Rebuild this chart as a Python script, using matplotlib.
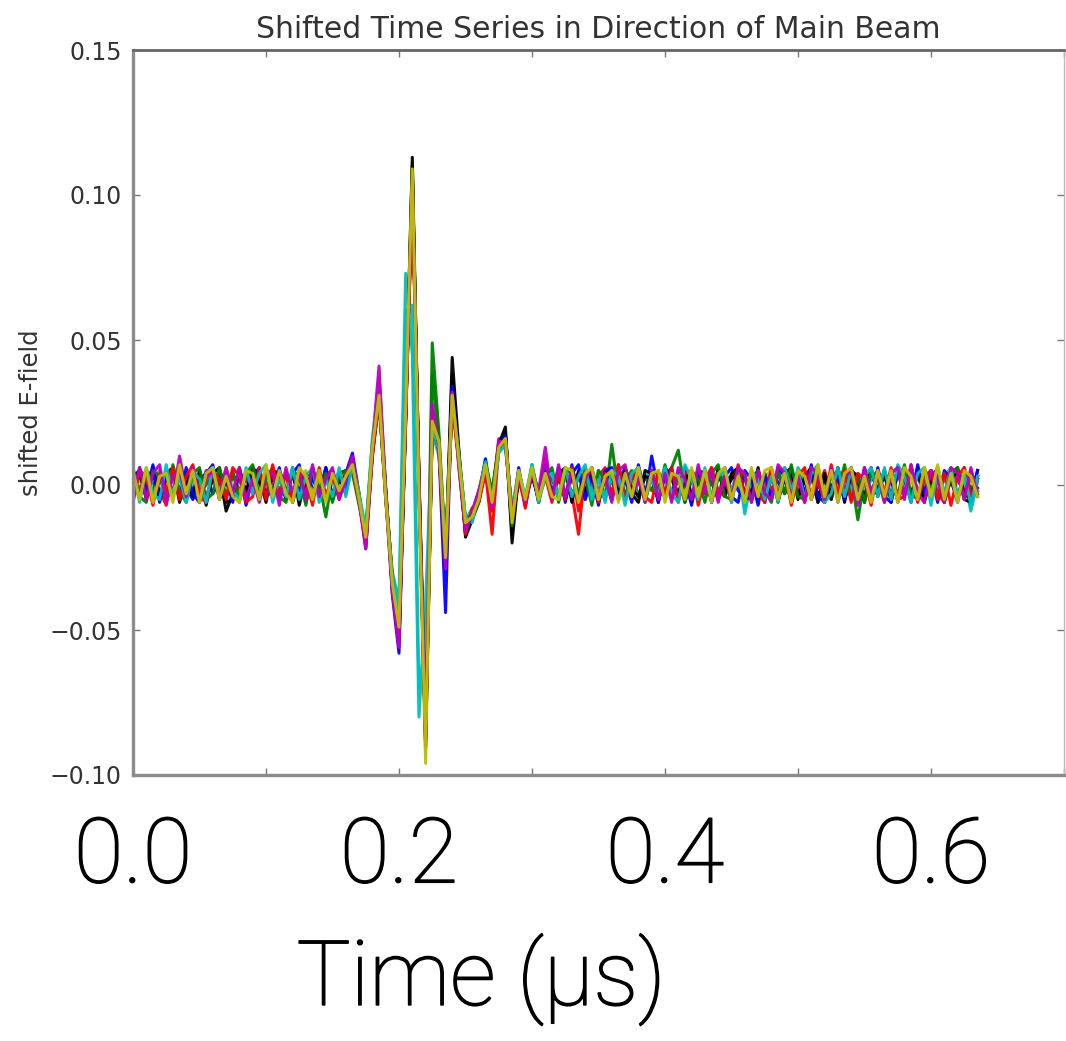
"""
Shifted time series in the direction of the main beam.
Fourteen traces (classic b,g,r,c,m,y,k colours), sampled every 5 ns.
Values read off the reference picture, in units of 1e-3.
Output: out.png
"""

import numpy as np
import matplotlib
matplotlib.use("Agg")
import matplotlib.pyplot as plt
import matplotlib.patheffects as pe

OUT_PNG = "out.png"
DT = 0.005  # µs per sample

# ── Traces (x 1e-3) ──────────────────────────────────────────────────────────
TRACE_B = [2, -3, 4, 1, -4, 3, -2, 5, -1, -5, 2, 4, -3, 1, 5, -2,
           -4, 3, 0, -3, 4, 2, -5, 1, 3, -2, 4, -1, -3, 5, 2, -1,
           4, 11, -3, -22, 10, 30, -4, -38, -58, 22, 106, 2, -85, 20, 12, -44,
           36, 6, -16, -9, -2, 8, -6, 12, 15, -10, 4, -6, 5, -3, 6, -2,
           3, -5, 7, -4, 2, 5, -6, 3, 1, -4, 6, -3, 2, -5, 10, -2,
           4, -3, 5, -6, 2, 4, -3, 1, -5, 3, 6, -2, -4, 3, 2, -5,
           4, 1, -3, 5, -4, 2, 3, -6, 4, -1, 5, -3, 2, -4, 6, -2,
           -3, 4, 1, -5, 3, 5, -2, -4, 2, 6, -3, 1, -4, 3, 2, -1]
TRACE_G = [-3, 4, 1, -2, 5, -1, 3, -4, 2, 4, -3, 0, 5, -2, -4, 3,
           2, -5, 4, 1, -3, 5, -2, 3, -6, 2, 4, -3, 1, -11, 3, -1,
           2, 8, -5, -18, 13, 34, -1, -33, -50, 26, 110, -2, -82, 49, 18, -22,
           30, 10, -13, -11, -4, 6, -3, 15, 18, -13, 2, -4, 3, -5, 4, 2,
           -4, 5, 2, -3, 6, -2, 4, -5, 14, -3, 2, 5, -4, 3, -2, 4,
           -3, 6, 12, -2, 3, -5, 4, 1, -4, 5, -2, 3, -4, 2, 5, -3,
           2, -4, 5, 1, -3, 4, -5, 3, 2, -4, 6, -2, 3, -12, 2, 4,
           -2, 5, -4, 3, 1, -5, 4, -2, 5, -3, 2, 4, -5, 3, -1, 2]
TRACE_R = [1, -4, 3, 5, -2, -7, 4, 2, -3, 5, -1, -4, 3, 1, -5, 4,
           -2, 3, 5, -4, 1, -3, 4, 2, -5, 3, -2, 5, -3, 1, 4, -2,
           3, 7, -3, -20, 11, 28, -3, -32, -47, 24, 100, 1, -84, 22, 13, -25,
           27, 8, -14, -10, -5, 5, -17, 13, 16, -11, 5, -7, 4, -2, 5, -4,
           2, 4, -3, -17, 5, -2, 3, 6, -4, 1, -5, 4, 2, -3, 5, -1,
           -4, 3, 2, -5, 4, 1, -3, 6, -2, -4, 3, 5, -3, 1, -5, 4,
           -2, 5, -3, 2, 4, -6, 3, -1, 5, -4, 2, -3, 6, -2, -5, 3,
           4, -2, 5, -6, 2, 3, -4, 1, 5, -3, -6, 2, 4, -2, -5, 3]
TRACE_C = [-2, 3, -4, 2, 5, -1, 3, -3, 4, 1, -5, 3, 2, -3, 4, -1,
           3, -4, 6, -2, 4, 1, -3, 5, -2, 3, -4, 2, 5, -3, 1, 4,
           -2, 6, -6, -16, 15, 30, -5, -30, -40, 73, 45, -80, -40, 18, 10, -20,
           28, 12, -12, -8, -5, 9, -4, 12, 13, -9, 3, -5, 6, -3, 2, 5,
           -3, 2, 4, -5, 3, -2, 5, -4, 2, 6, -3, 1, -4, 3, 5, -2,
           2, -4, 3, 5, -3, 1, 4, -5, 2, 3, -2, 6, -10, 2, 4, -3,
           5, -2, 3, -4, 6, 2, -3, 4, -1, -5, 3, 5, -2, 4, -4, 2,
           5, -3, 4, 6, -2, 3, -5, 5, 2, -4, 3, 6, -3, 2, -9, 1]
TRACE_M = [3, -2, 5, -3, 1, 4, -4, 10, -2, 3, -4, 5, 2, -3, 1, -5,
           4, 2, -3, 5, -4, 1, 3, -2, 4, -5, 2, 3, -4, 1, 5, -3,
           1, 9, -4, -21, 14, 41, -2, -36, -55, 27, 104, 0, -86, 26, 15, -28,
           31, 9, -15, -9, -3, 7, -6, 16, 14, -12, 1, -5, 5, -2, 13, -4,
           5, -3, 2, 4, -5, 3, -2, 5, -4, 2, 6, -3, 1, -4, 3, -2,
           5, -4, 2, 3, -5, 6, -2, 4, -3, 1, -4, 5, 2, -5, 3, 1,
           -4, 3, 6, -2, 1, -5, 4, 2, -3, 5, -4, 1, 3, -6, 4, -2,
           3, -5, 2, 4, -3, 6, -2, -4, 3, 1, -5, 4, 2, -3, 5, -2]
TRACE_Y = [-4, 2, 3, -5, 4, 1, -3, 5, -2, 3, -4, 2, 4, -3, 6, -1,
           -3, 4, 1, -4, 5, -2, 3, 1, -4, 2, 5, -3, 2, -4, 3, 0,
           2, 8, -4, -19, 12, 33, -3, -35, -50, 25, 111, -3, -96, 24, 14, -27,
           33, 7, -15, -10, -3, 8, -5, 14, 17, -12, 3, -6, 4, -3, 5, -2,
           -3, 4, 3, -5, 2, 5, -3, 1, 4, -4, 3, -2, 5, -3, 2, 4,
           -5, 3, 1, -3, 5, -2, 4, -4, 2, 5, -3, 1, -4, 4, -2, 3,
           5, -3, 2, -5, 4, 1, -3, 6, -2, 3, -4, 2, 5, -3, 1, -4,
           4, -2, 3, -4, 5, 1, -3, 4, -2, 6, -3, 2, -4, 3, 1, -2]
TRACE_K = [1, 3, -2, 4, -3, 2, 5, -4, 1, -2, 3, -5, 2, 4, -9, -3,
           4, -2, 5, 1, -4, 3, 2, -3, 4, -5, 1, 3, -2, 4, -3, 2,
           3, 6, -4, -17, 11, 32, -3, -34, -53, 24, 113, 2, -88, 21, 13, -27,
           44, 12, -18, -12, -6, 6, -4, 14, 20, -20, 4, -5, 3, -4, 6, -3,
           2, 5, -4, 3, -2, 4, -5, 2, 3, -3, 5, -1, -4, 3, 2, -5,
           4, 2, -3, 5, -4, 1, 3, -5, 4, -2, 2, 5, -3, -2, 4, -4,
           3, -5, 2, 4, -3, 1, 5, -4, 2, -3, 4, -5, 3, 1, -4, 5,
           -2, 3, -4, 5, 2, -3, 4, -5, 1, 3, -4, 2, 5, -3, -5, 3]

TRACE_B2 = [-5, 6, -2, 7, -6, 3, 5, -4, 6, -3, -6, 4, 7, -5, 2, -6,
            5, -7, 3, 6, -4, -2, 6, -5, 4, 7, -6, 3, -4, 6, -5, 2,
            -3, 9, -6, -20, 12, 31, -2, -36, -54, 23, 107, -1, -87, 23, 14, -30,
            34, 9, -14, -12, -4, 9, -7, 13, 17, -11, 6, -7, 5, -6, 7, -4,
            6, -6, 4, 7, -5, 3, -7, 5, 6, -4, 2, -6, 7, -3, 5, -6,
            3, 6, -5, 2, -7, 5, 4, -6, 3, 6, -4, -6, 5, 2, -7, 4,
            -5, 6, 3, -6, 5, -3, 7, -4, -6, 5, 2, -5, 6, -4, 3, -6,
            6, -4, -6, 5, 3, -6, 7, -3, 4, -6, 5, 2, -6, 6, -4, 5]
TRACE_G2 = [6, -4, -6, 5, 3, -5, 7, -2, -6, 4, 6, -5, -3, 6, -4, 5,
            -6, 4, 7, -5, 2, 6, -4, -6, 5, 3, -7, 6, -2, 4, -6, 3,
            5, 4, -7, -17, 14, 29, -4, -31, -49, 28, 102, 3, -80, 38, 16, -24,
            29, 11, -12, -10, -6, 7, -2, 13, 15, -14, 4, -6, 7, -4, 2, 6,
            -6, 4, 6, -5, 3, -7, 5, 2, -5, 7, -4, 3, 6, -6, 4, -3,
            7, -5, 3, -6, 5, 2, -6, 4, 7, -4, -5, 6, 3, -6, 5, -2,
            -6, 5, -3, 7, -4, -5, 6, 2, -6, 4, -3, 7, -5, 3, -6, 5,
            2, -6, 5, -4, 7, -3, -5, 6, -2, 5, -6, 3, 6, -5, 4, -3]
TRACE_R2 = [-6, 5, 3, -7, 4, -2, 6, -5, 3, 7, -4, -6, 5, 2, -5, 6,
            3, -6, -4, 6, -5, 7, -3, 4, -6, 5, 2, -7, 6, -4, 3, -5,
            4, 6, -5, -21, 10, 30, -5, -33, -51, 21, 103, -2, -89, 25, 11, -26,
            30, 7, -17, -8, -6, 4, -9, 12, 16, -12, 3, -8, 6, -5, 3, -6,
            4, -5, 6, -9, 3, 5, -6, 4, -3, 7, -5, 2, 6, -4, -6, 5,
            -3, 6, -6, 4, 5, -7, 2, 6, -5, 3, -6, 7, -4, 5, -3, -6,
            6, -4, 5, -7, 3, 6, -5, 2, -6, 7, -3, 5, -6, 4, 2, -7,
            5, -3, 6, -5, -4, 7, -6, 3, 5, -5, 4, -7, 3, 6, -4, 2]
TRACE_C2 = [4, -6, 6, -3, -5, 7, -4, 3, -6, 5, 2, -6, 6, -4, 5, -2,
            -5, 6, -3, 4, 7, -6, 2, -4, 6, -5, 3, 6, -6, 2, -4, 6,
            -4, 7, -3, -15, 16, 35, -3, -32, -44, 60, 62, -70, -55, 20, 12, -23,
            31, 10, -11, -13, -3, 8, -6, 11, 14, -8, 5, -4, 7, -6, 3, 4,
            -5, 6, -4, 3, 7, -5, 2, -6, 5, 3, -7, 4, 6, -5, 2, -4,
            6, -3, -6, 7, 2, -5, 6, -4, 3, 5, -6, 4, -7, 5, 2, -5,
            3, -6, 6, -2, 5, -5, 4, 7, -6, -3, 6, -4, 5, -6, 3, 6,
            -4, 6, -5, 7, 3, -6, 4, 6, -7, 5, -3, 6, -5, 4, -7, 3]
TRACE_M2 = [-3, 6, -5, 4, 7, -6, 3, 5, -4, 6, -6, 2, 5, -5, 6, -3,
            6, -5, 2, -6, 5, 4, -7, 6, -3, 5, -5, 7, -4, 2, 6, -5,
            2, 10, -6, -22, 13, 37, -1, -37, -56, 25, 101, 4, -83, 28, 13, -29,
            32, 8, -16, -10, -2, 6, -8, 15, 15, -10, 3, -6, 4, -4, 9, -5,
            7, -4, 5, -6, 2, 6, -5, 3, -6, 5, 7, -4, 3, -6, 5, -5,
            4, -6, 6, 2, -5, 7, -3, 5, -6, 3, -5, 6, 4, -6, 5, -3,
            -5, 7, 4, -4, 3, -6, 6, 4, -5, 6, -6, 3, 5, -7, 6, -4,
            5, -6, 4, 6, -5, 7, -3, -6, 5, 3, -6, 6, 4, -5, 6, -4]
TRACE_Y2 = [5, -5, 6, -6, 3, 4, -6, 7, -3, 5, -6, 4, 6, -5, 3, -4,
            -6, 5, 4, -5, 7, -4, 5, -3, -6, 6, 3, -5, 5, -6, 4, -2,
            3, 7, -5, -18, 13, 31, -4, -34, -49, 26, 109, -4, -92, 22, 15, -25,
            31, 9, -13, -11, -5, 7, -6, 13, 16, -13, 5, -5, 6, -5, 4, -4,
            -5, 6, 5, -6, 4, 6, -5, 3, 5, -6, 4, -4, 6, -5, 4, 5,
            -6, 4, 3, -5, 6, -4, 5, -6, 4, 6, -5, 3, -6, 6, -4, 5,
            6, -5, 4, -6, 5, 3, -5, 7, -4, 5, -6, 4, 6, -5, 3, -6,
            5, -4, 5, -6, 6, 3, -5, 6, -4, 7, -5, 4, -6, 5, 3, -4]
TRACE_K2 = [3, 5, -5, 6, -5, 4, 6, -6, 3, -4, 5, -7, 4, 6, -6, -5,
            6, -4, 6, 3, -6, 5, 4, -5, 6, -7, 3, 5, -4, 6, -5, 4,
            5, 5, -6, -16, 12, 30, -2, -33, -50, 22, 109, 3, -90, 20, 12, -24,
            38, 10, -17, -11, -5, 5, -5, 13, 18, -17, 5, -6, 5, -6, 5, -4,
            4, 6, -6, 5, -4, 6, -6, 4, 5, -5, 6, -3, -6, 5, 4, -6,
            6, 3, -5, 6, -6, 3, 5, -6, 6, -4, 4, 6, -5, -4, 6, -6,
            5, -6, 4, 6, -5, 3, 6, -6, 4, -5, 6, -6, 5, 3, -6, 6,
            -4, 5, -6, 6, 4, -5, 6, -6, 3, 5, -6, 4, 6, -5, -6, 5]

# drawing order: yellow ends up on top, as in the picture
TRACES = [TRACE_B, TRACE_G, TRACE_R, TRACE_C, TRACE_M, TRACE_Y, TRACE_K,
          TRACE_K2, TRACE_B2, TRACE_G2, TRACE_R2, TRACE_C2, TRACE_M2, TRACE_Y2]
COLORS = ["b", "g", "r", "c", "m", "y", "k",
          "k", "b", "g", "r", "c", "m", "y"]

Y_TICKS  = [-0.10, -0.05, 0.00, 0.05, 0.10, 0.15]
Y_LABELS = ["\u22120.10", "\u22120.05", "0.00", "0.05", "0.10", "0.15"]
X_TICKS  = [0.0, 0.1, 0.2, 0.3, 0.4, 0.5, 0.6, 0.7]
X_LABELS = ["0.0", "", "0.2", "", "0.4", "", "0.6", ""]

# ── Figure ───────────────────────────────────────────────────────────────────
W, H = 1066, 1041
fig = plt.figure(figsize=(W / 100, H / 100), dpi=100)
ax = fig.add_axes([133 / W, 1 - 775 / H, (1064 - 133) / W, (775 - 50) / H])

for vals, col in zip(TRACES, COLORS):
    v = np.asarray(vals) * 1e-3
    t = np.arange(len(v)) * DT
    ax.plot(t, v, color=col, lw=2.2, alpha=0.95)

ax.set_xlim(0.0, 0.7)
ax.set_ylim(-0.10, 0.15)
ax.set_yticks(Y_TICKS)
ax.set_yticklabels(Y_LABELS)
ax.set_xticks(X_TICKS)
ax.set_xticklabels(X_LABELS)

ax.tick_params(axis="y", direction="in", length=5, width=1, color="#777777",
               labelsize=17, labelcolor="#333333", pad=8, right=True)
ax.tick_params(axis="x", direction="in", length=5, width=1, color="#777777",
               labelsize=65, pad=28, top=True)
big_fx = [pe.withStroke(linewidth=1.0, foreground="black")]
for lab in ax.get_xticklabels():
    lab.set_fontfamily("Roboto")
    lab.set_fontweight("light")
    lab.set_path_effects(big_fx)

for side in ["left", "bottom"]:
    ax.spines[side].set_color("#8c8c8c")
    ax.spines[side].set_linewidth(2.4)
ax.spines["top"].set_color("#666666")
ax.spines["top"].set_linewidth(2.0)
ax.spines["right"].set_color("#bbbbbb")
ax.spines["right"].set_linewidth(1.0)

ax.set_title("Shifted Time Series in Direction of Main Beam",
             fontsize=21.5, color="#333333", pad=9)
ax.set_ylabel("shifted E-field", fontsize=17.5, color="#333333")
ax.yaxis.set_label_coords(-0.097, 0.5)

fig.text(481 / W, 1 - 1005 / H, "Time (\u00b5s)", ha="center", va="baseline",
         fontsize=65, family="Roboto", fontweight="light", color="black",
         path_effects=big_fx)

plt.savefig(OUT_PNG, dpi=100)
plt.close()
print(f"Saved: {OUT_PNG}")
